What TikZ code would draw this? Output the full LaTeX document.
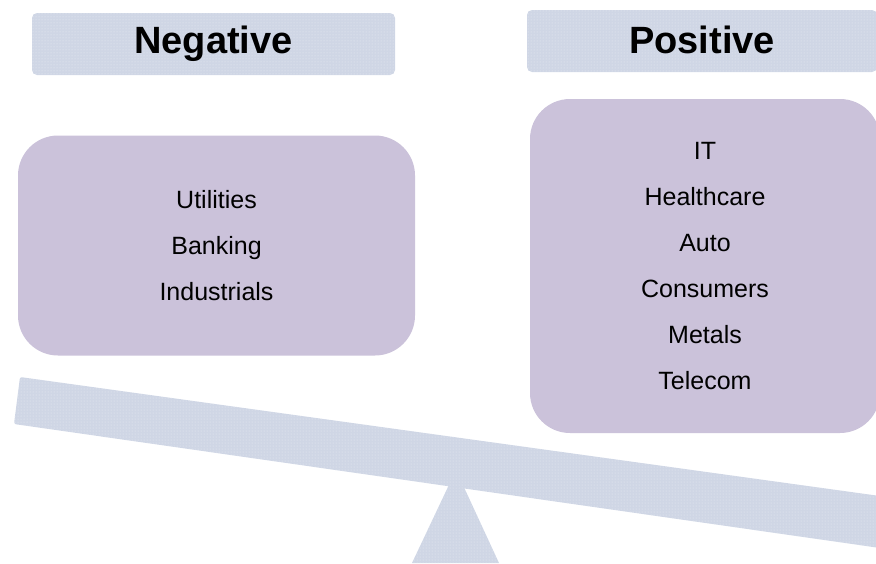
\documentclass[tikz,border=0pt]{standalone}
\usepackage{fontspec}
\setmainfont{Liberation Sans}
\usetikzlibrary{patterns}

\definecolor{barblue}{RGB}{207,214,229}
\definecolor{boxlilac}{RGB}{203,194,218}

\tikzset{
    dotfill/.style={fill=barblue, postaction={pattern=dots, pattern color=white!55!barblue}},
    headbox/.style={dotfill, rounded corners=5pt, inner sep=0pt, font=\fontsize{38}{38}\selectfont\bfseries},
    listbox/.style={fill=boxlilac, rounded corners=40pt, inner sep=0pt, align=center, font=\fontsize{25}{46}\selectfont}
}

\begin{document}
\begin{tikzpicture}[x=1pt, y=-1pt]
    \useasboundingbox (0,0) rectangle (876,563);
    % headings
    \node[headbox, minimum width=363pt, minimum height=62pt] (hdrneg) at (213.5,44) {\raisebox{3pt}{Negative}};
    \node[headbox, minimum width=350pt, minimum height=62pt] (hdrpos) at (702,41) {\raisebox{3pt}{Positive}};
    % sector lists
    \node[listbox, minimum width=397pt, minimum height=220pt] (boxneg) at (216.5,245.5) {Utilities\\Banking\\Industrials};
    \node[listbox, minimum width=350pt, minimum height=334pt] (boxpos) at (705,266) {IT\\Healthcare\\Auto\\Consumers\\Metals\\Telecom};
    % fulcrum and tilted beam
    \fill[dotfill] (456,470) -- (499,563) -- (412,563) -- cycle;
    \fill[dotfill, rounded corners=2pt] (20,377) -- (880,496) -- (880,548) -- (14,424) -- cycle;
\end{tikzpicture}
\end{document}
